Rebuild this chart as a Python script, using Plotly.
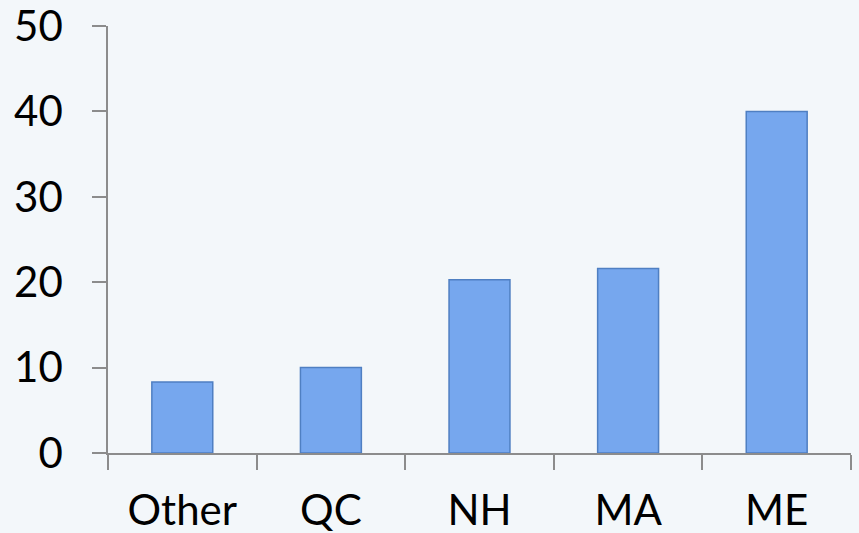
import plotly.graph_objects as go

categories = ["Other", "QC", "NH", "MA", "ME"]
values = [8.3, 10.0, 20.3, 21.6, 40.0]
y_ticks = [0, 10, 20, 30, 40, 50]

BG = "#F3F7FA"
AXIS = "#8C8C8C"
FONT = dict(family="Lato, Calibri, sans-serif", size=42, color="#000000")

fig = go.Figure()
fig.add_trace(go.Bar(
    x=categories, y=values,
    marker=dict(color="#76A7EE", line=dict(color="#4F7FC2", width=1.5)),
    width=0.41,
))

fig.update_layout(
    width=859, height=533,
    margin=dict(l=108, r=8, t=26, b=80, autoexpand=False),
    paper_bgcolor=BG, plot_bgcolor=BG,
    showlegend=False,
    font=FONT,
)
fig.update_xaxes(
    type="category", range=[-0.5, 4.5], automargin=False,
    showline=True, linecolor=AXIS, linewidth=1.5,
    ticks="outside", tickson="boundaries", ticklen=15, tickcolor=AXIS, tickwidth=1.5,
    showgrid=False, zeroline=False, tickfont=FONT, ticklabelstandoff=20,
    ticklabeloverflow="allow",
)
fig.update_yaxes(
    range=[0, 50], tickvals=y_ticks, automargin=False,
    showline=True, linecolor=AXIS, linewidth=1.5,
    ticks="outside", ticklen=14, tickcolor=AXIS, tickwidth=1.5,
    showgrid=False, zeroline=False, tickfont=FONT, ticklabelstandoff=21,
    ticklabeloverflow="allow",
)

fig.write_html(
    "out.html",
    config={"displayModeBar": False},
    post_script="document.body.style.margin='0';document.body.style.background='#F3F7FA';document.body.style.overflow='hidden';",
)
